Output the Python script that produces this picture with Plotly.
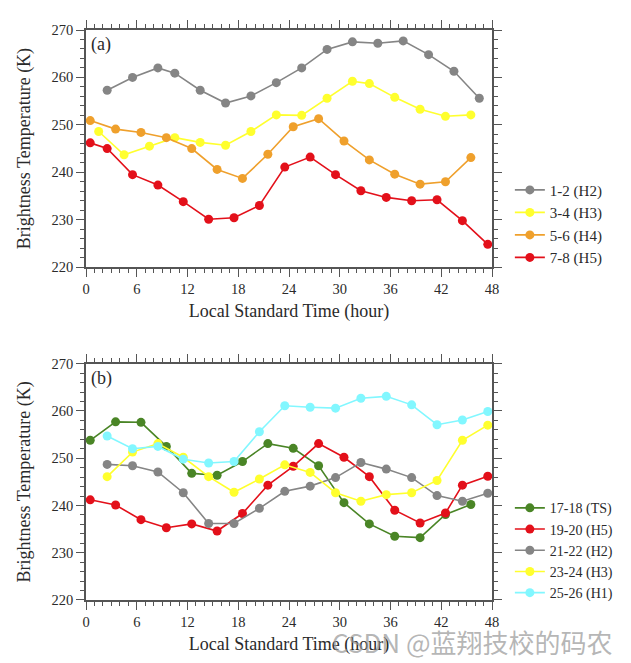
import plotly.graph_objects as go

# ---------------- data: panel (a) ----------------
a_h2_hours = [2.5, 5.5, 8.5, 10.5, 13.5, 16.5, 19.5, 22.5, 25.5, 28.5, 31.5, 34.5, 37.5, 40.5, 43.5, 46.5]
a_h2_tb = [257.3, 260.0, 262.0, 260.9, 257.3, 254.6, 256.1, 258.9, 262.0, 265.9, 267.5, 267.2, 267.7, 264.8, 261.3, 255.6]

a_h3_hours = [1.5, 4.5, 7.5, 10.5, 13.5, 16.5, 19.5, 22.5, 25.5, 28.5, 31.5, 33.5, 36.5, 39.5, 42.5, 45.5]
a_h3_tb = [248.6, 243.7, 245.5, 247.3, 246.3, 245.7, 248.6, 252.1, 252.0, 255.6, 259.2, 258.7, 255.8, 253.3, 251.8, 252.1]

a_h4_hours = [0.5, 3.5, 6.5, 9.5, 12.5, 15.5, 18.5, 21.5, 24.5, 27.5, 30.5, 33.5, 36.5, 39.5, 42.5, 45.5]
a_h4_tb = [250.9, 249.1, 248.4, 247.3, 245.0, 240.6, 238.7, 243.8, 249.6, 251.3, 246.6, 242.6, 239.6, 237.5, 238.0, 243.1]

a_h5_hours = [0.5, 2.5, 5.5, 8.5, 11.5, 14.5, 17.5, 20.5, 23.5, 26.5, 29.5, 32.5, 35.5, 38.5, 41.5, 44.5, 47.5]
a_h5_tb = [246.2, 245.0, 239.5, 237.3, 233.8, 230.1, 230.4, 233.0, 241.1, 243.2, 239.5, 236.1, 234.7, 234.0, 234.2, 229.8, 224.8]

# ---------------- data: panel (b) ----------------
b_ts_hours = [0.5, 3.5, 6.5, 9.5, 12.5, 15.5, 18.5, 21.5, 24.5, 27.5, 30.5, 33.5, 36.5, 39.5, 42.5, 45.5]
b_ts_tb = [253.8, 257.7, 257.6, 252.5, 246.8, 246.4, 249.3, 253.1, 252.1, 248.4, 240.6, 236.1, 233.5, 233.2, 238.1, 240.2]

b_h5_hours = [0.5, 3.5, 6.5, 9.5, 12.5, 15.5, 18.5, 21.5, 24.5, 27.5, 30.5, 33.5, 36.5, 39.5, 42.5, 44.5, 47.5]
b_h5_tb = [241.2, 240.1, 237.0, 235.3, 236.1, 234.6, 238.3, 244.3, 248.3, 253.1, 250.2, 246.1, 239.0, 236.3, 238.4, 244.3, 246.2]

b_hours = [2.5, 5.5, 8.5, 11.5, 14.5, 17.5, 20.5, 23.5, 26.5, 29.5, 32.5, 35.5, 38.5, 41.5, 44.5, 47.5]
b_h2_tb = [248.7, 248.4, 247.1, 242.7, 236.2, 236.2, 239.4, 243.0, 244.1, 245.9, 249.1, 247.7, 245.9, 242.1, 240.9, 242.6]
b_h3_tb = [246.1, 251.3, 253.1, 250.2, 246.1, 242.8, 245.6, 248.6, 247.0, 242.7, 240.9, 242.3, 242.7, 245.3, 253.8, 257.0]
b_h1_tb = [254.7, 252.0, 252.5, 249.8, 249.0, 249.3, 255.6, 261.1, 260.8, 260.6, 262.7, 263.1, 261.3, 257.1, 258.1, 259.9]

# ---------------- labels ----------------
x_title = "Local Standard Time (hour)"
y_title = "Brightness Temperature (K)"
x_ticks = [0, 6, 12, 18, 24, 30, 36, 42, 48]
y_ticks = [220, 230, 240, 250, 260, 270]

GRAY = "#858585"
YELLOW = "#FFFF2E"
ORANGE = "#EFA02C"
RED = "#E3101A"
GREEN = "#4A8526"
CYAN = "#82F7FF"

SERIF = "Liberation Serif"
TXT = "#2a2a2a"
AXC = "#555555"

fig = go.Figure()

def add(x, y, name, color, xa, ya, legend, rank):
    fig.add_trace(go.Scatter(
        x=x, y=y, name=name, mode="lines+markers",
        line=dict(color=color, width=1.6),
        marker=dict(color=color, size=9),
        xaxis=xa, yaxis=ya, legend=legend, legendrank=rank,
        cliponaxis=False,
    ))

add(a_h2_hours, a_h2_tb, "1-2 (H2)", GRAY, "x", "y", "legend", 1)
add(a_h3_hours, a_h3_tb, "3-4 (H3)", YELLOW, "x", "y", "legend", 2)
add(a_h4_hours, a_h4_tb, "5-6 (H4)", ORANGE, "x", "y", "legend", 3)
add(a_h5_hours, a_h5_tb, "7-8 (H5)", RED, "x", "y", "legend", 4)

add(b_ts_hours, b_ts_tb, "17-18 (TS)", GREEN, "x2", "y2", "legend2", 1)
add(b_h5_hours, b_h5_tb, "19-20 (H5)", RED, "x2", "y2", "legend2", 2)
add(b_hours, b_h2_tb, "21-22 (H2)", GRAY, "x2", "y2", "legend2", 3)
add(b_hours, b_h3_tb, "23-24 (H3)", YELLOW, "x2", "y2", "legend2", 4)
add(b_hours, b_h1_tb, "25-26 (H1)", CYAN, "x2", "y2", "legend2", 5)

xcommon = dict(
    range=[0, 48], tickvals=x_ticks, ticks="outside", ticklen=8, tickwidth=1.3,
    tickcolor=AXC, showline=True, linecolor=AXC, linewidth=1.5, mirror="ticks",
    showgrid=False, zeroline=False,
    minor=dict(dtick=1, ticks="outside", ticklen=4, tickwidth=1.2, tickcolor=AXC, showgrid=False),
    tickfont=dict(family=SERIF, size=14.5, color=TXT),
    title=dict(text=x_title, font=dict(family=SERIF, size=18, color=TXT), standoff=8),
)
ycommon = dict(
    range=[220, 270], tickvals=y_ticks, ticks="outside", ticklen=8, tickwidth=1.3,
    tickcolor=AXC, showline=True, linecolor=AXC, linewidth=1.5, mirror="ticks",
    showgrid=False, zeroline=False,
    minor=dict(dtick=2, ticks="outside", ticklen=4, tickwidth=1.2, tickcolor=AXC, showgrid=False),
    tickfont=dict(family=SERIF, size=14.5, color=TXT),
    title=dict(text=y_title, font=dict(family=SERIF, size=18, color=TXT), standoff=16),
)

fig.update_layout(
    width=623, height=655,
    margin=dict(l=78, r=139, t=19, b=57),
    paper_bgcolor="white", plot_bgcolor="white",
    font=dict(family=SERIF, color=TXT),
    xaxis=dict(**xcommon, domain=[0, 1], anchor="y"),
    yaxis=dict(**ycommon, domain=[0.584, 1.0], anchor="x"),
    xaxis2=dict(**xcommon, domain=[0, 1], anchor="y2"),
    yaxis2=dict(**ycommon, domain=[0.0, 0.4145], anchor="x2"),
    legend=dict(x=1.044, y=0.748, xanchor="left", yanchor="top",
                font=dict(family=SERIF, size=15, color=TXT),
                bgcolor="rgba(0,0,0,0)", tracegroupgap=0),
    legend2=dict(x=1.044, y=0.189, xanchor="left", yanchor="top",
                 font=dict(family=SERIF, size=14, color=TXT),
                 bgcolor="rgba(0,0,0,0)", tracegroupgap=0),
    showlegend=True,
)

fig.add_annotation(text="(a)", xref="x domain", yref="y domain", x=0.008, y=0.99,
                   xanchor="left", yanchor="top", showarrow=False,
                   font=dict(family=SERIF, size=18, color=TXT))
fig.add_annotation(text="(b)", xref="x2 domain", yref="y2 domain", x=0.008, y=0.99,
                   xanchor="left", yanchor="top", showarrow=False,
                   font=dict(family=SERIF, size=18, color=TXT))
fig.add_annotation(text="CSDN @蓝翔技校的码农", xref="paper", yref="paper",
                   x=1.0 + 123 / 406, y=-0.072, xanchor="right", yanchor="middle",
                   showarrow=False,
                   font=dict(family="Noto Sans CJK SC", size=26, color="rgba(150,150,150,0.7)"))

fig.write_html("out.html")
